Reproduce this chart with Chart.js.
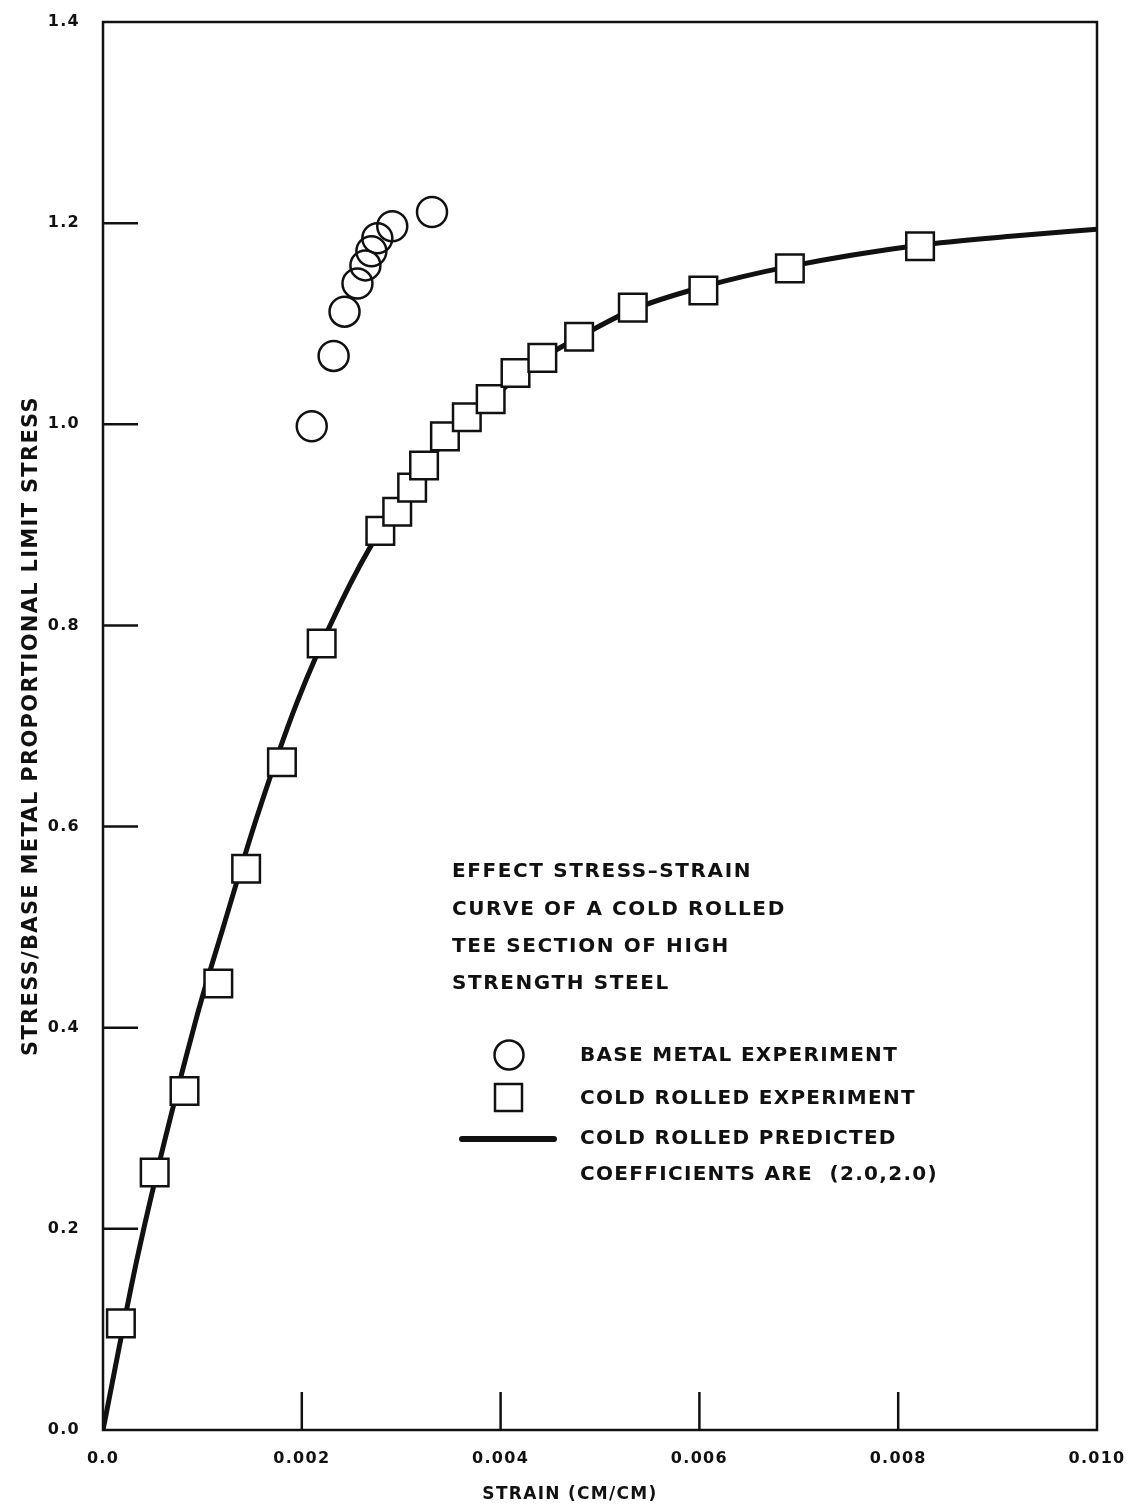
<!DOCTYPE html>
<html>
<head>
<meta charset="utf-8">
<script src="https://cdn.jsdelivr.net/npm/chart.js@4.4.1/dist/chart.umd.min.js"></script>
<style>
  html, body { margin: 0; padding: 0; background: #fff; }
  #wrap { width: 1135px; height: 1511px; }
</style>
</head>
<body>
<div id="wrap"><canvas id="chart" width="1135" height="1511"></canvas></div>
<script>
// --- values: strain (cm/cm) vs stress / base metal proportional limit stress ---
const baseStrain = [0.00210, 0.00232, 0.00243, 0.00256, 0.00264, 0.00270, 0.00276, 0.00291, 0.00331];
const baseStress = [0.998, 1.068, 1.112, 1.140, 1.158, 1.172, 1.185, 1.197, 1.211];

const coldStrain = [0.00018, 0.00052, 0.00082, 0.00116, 0.00144, 0.00180, 0.00220, 0.00279, 0.00296,
                    0.00311, 0.00323, 0.00344, 0.00366, 0.00390, 0.00415, 0.00442, 0.00479, 0.00533,
                    0.00604, 0.00691, 0.00822];
const coldStress = [0.106, 0.256, 0.337, 0.444, 0.558, 0.664, 0.782, 0.894, 0.913,
                    0.937, 0.959, 0.988, 1.007, 1.025, 1.051, 1.066, 1.087, 1.116,
                    1.133, 1.155, 1.177];

const predStrain = [0, 0.00036, 0.00093, 0.00121, 0.00155, 0.00195, 0.00239, 0.00278, 0.00310, 0.00345,
                    0.00390, 0.00443, 0.00478, 0.00533, 0.00605, 0.00691, 0.00821, 0.00913, 0.01000];
const predStress = [0, 0.178, 0.406, 0.500, 0.610, 0.723, 0.822, 0.893, 0.937, 0.985,
                    1.025, 1.066, 1.086, 1.114, 1.137, 1.157, 1.178, 1.187, 1.194];

const noteLines = ['EFFECT STRESS\u2013STRAIN', 'CURVE OF A COLD ROLLED', 'TEE SECTION OF HIGH', 'STRENGTH STEEL'];
const legendLabels = ['BASE METAL EXPERIMENT', 'COLD ROLLED EXPERIMENT', 'COLD ROLLED PREDICTED', 'COEFFICIENTS ARE  (2.0,2.0)'];
const xTitle = 'STRAIN (CM/CM)';

const INK = '#111';
const FONT = '"DejaVu Sans", "Liberation Sans", sans-serif';

const pairs = (xs, ys) => xs.map((v, i) => ({ x: v, y: ys[i] }));

// frame, inward tick marks, x title and the note/legend block inside the plot
const frameAndNotes = {
  id: 'frameAndNotes',
  beforeDraw(chart) {
    chart.ctx.letterSpacing = '1.3px';
  },
  afterDraw(chart) {
    const { ctx, chartArea: a, scales: { x, y } } = chart;
    ctx.save();
    ctx.strokeStyle = INK;
    ctx.lineWidth = 2.5;
    ctx.strokeRect(a.left, a.top, a.right - a.left, a.bottom - a.top);

    ctx.beginPath();
    y.ticks.forEach(t => {
      if (t.value <= 0 || t.value >= 1.39) return;
      const py = y.getPixelForValue(t.value);
      ctx.moveTo(a.left, py);
      ctx.lineTo(a.left + 35, py);
    });
    x.ticks.forEach(t => {
      if (t.value <= 0 || t.value >= 0.0099) return;
      const px = x.getPixelForValue(t.value);
      ctx.moveTo(px, a.bottom);
      ctx.lineTo(px, a.bottom - 38);
    });
    ctx.stroke();

    ctx.fillStyle = INK;
    ctx.textBaseline = 'middle';
    ctx.textAlign = 'center';
    ctx.font = 'bold 17px ' + FONT;
    ctx.fillText(xTitle, 570, 1495);

    ctx.textAlign = 'left';
    ctx.font = 'bold 20px ' + FONT;
    ctx.letterSpacing = '1.6px';
    [872, 910, 947, 984].forEach((py, i) => ctx.fillText(noteLines[i], 452, py));
    ctx.letterSpacing = '1.3px';
    [1056, 1099, 1139, 1175].forEach((py, i) => ctx.fillText(legendLabels[i], 580, py));

    // legend keys
    ctx.lineWidth = 2.5;
    ctx.beginPath();
    ctx.arc(509, 1055, 14.5, 0, Math.PI * 2);
    ctx.stroke();
    ctx.strokeRect(495, 1084, 27, 27);
    ctx.lineWidth = 6;
    ctx.lineCap = 'round';
    ctx.beginPath();
    ctx.moveTo(462, 1139);
    ctx.lineTo(554, 1139);
    ctx.stroke();
    ctx.restore();
    ctx.letterSpacing = '0px';
  }
};

new Chart(document.getElementById('chart'), {
  type: 'scatter',
  data: {
    datasets: [
      {
        label: 'COLD ROLLED EXPERIMENT',
        data: pairs(coldStrain, coldStress),
        pointStyle: 'rect',
        pointRadius: 19.5,
        pointBorderWidth: 2.5,
        pointBorderColor: INK,
        pointBackgroundColor: '#fff'
      },
      {
        label: 'BASE METAL EXPERIMENT',
        data: pairs(baseStrain, baseStress),
        pointStyle: 'circle',
        pointRadius: 15,
        pointBorderWidth: 2.5,
        pointBorderColor: INK,
        pointBackgroundColor: 'rgba(255,255,255,0)'
      },
      {
        type: 'line',
        label: 'COLD ROLLED PREDICTED',
        data: pairs(predStrain, predStress),
        borderColor: INK,
        borderWidth: 5,
        pointRadius: 0,
        cubicInterpolationMode: 'monotone',
        fill: false
      }
    ]
  },
  options: {
    responsive: false,
    animation: false,
    events: [],
    layout: { padding: { top: 16, right: 38, left: 0, bottom: 0 } },
    plugins: {
      legend: { display: false },
      tooltip: { enabled: false }
    },
    scales: {
      x: {
        type: 'linear',
        min: 0,
        max: 0.010,
        grid: { display: false },
        border: { display: false },
        ticks: {
          stepSize: 0.002,
          color: INK,
          padding: 11,
          maxRotation: 0,
          autoSkip: false,
          font: { family: FONT, size: 16, weight: 'bold' },
          callback: v => (v === 0 ? '0.0' : v.toFixed(3))
        },
        afterFit: s => { s.height = 81; s.paddingLeft = 0; s.paddingRight = 0; }
      },
      y: {
        min: 0,
        max: 1.4,
        grid: { display: false },
        border: { display: false },
        ticks: {
          stepSize: 0.2,
          color: INK,
          padding: 15,
          font: { family: FONT, size: 16, weight: 'bold', lineHeight: 0.6 },
          callback: v => v.toFixed(1)
        },
        title: {
          display: true,
          text: 'STRESS/BASE METAL PROPORTIONAL LIMIT STRESS',
          color: INK,
          font: { family: FONT, size: 21, weight: 'bold' },
          padding: { top: 19, bottom: 0 }
        },
        afterFit: s => { s.width = 103; s.paddingTop = 0; s.paddingBottom = 0; }
      }
    }
  },
  plugins: [frameAndNotes]
});
</script>
</body>
</html>
